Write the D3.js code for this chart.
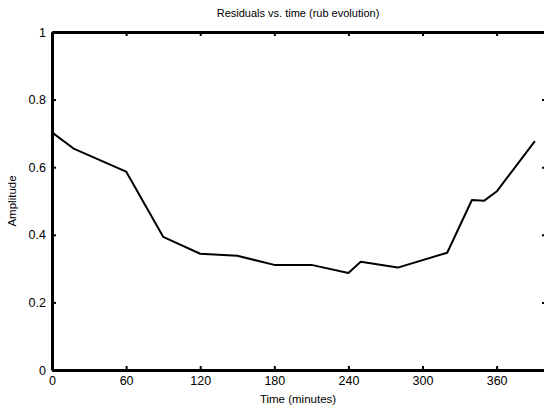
<!DOCTYPE html>
<html>
<head>
<meta charset="utf-8">
<script src="https://cdn.jsdelivr.net/npm/d3@7"></script>
<style>
  body { margin: 0; background: #fff; }
  svg { display: block; font-family: "Liberation Sans", Arial, sans-serif; }
</style>
</head>
<body>
<div id="chart"></div>
<script>
// residual amplitude over time
const timeMinutes = [0, 18, 60, 90, 120, 150, 180, 210, 240, 250, 280, 320, 340, 350, 360, 391];
const amplitude = [0.703, 0.654, 0.587, 0.394, 0.344, 0.338, 0.311, 0.311, 0.287, 0.320, 0.303, 0.347, 0.503, 0.501, 0.528, 0.677];
const xTicks = [0, 60, 120, 180, 240, 300, 360];
const yTicks = [0, 0.2, 0.4, 0.6, 0.8, 1];

const width = 544, height = 412;
const margin = { top: 32, right: -2, bottom: 42, left: 52 };

const svg = d3.select("#chart")
  .append("svg")
  .attr("width", width)
  .attr("height", height);

const x = d3.scaleLinear()
  .domain([0, 400])
  .range([margin.left, width - margin.right]);

const y = d3.scaleLinear()
  .domain([0, 1])
  .range([height - margin.bottom, margin.top]);

// data line
const line = d3.line()
  .x((d, i) => x(timeMinutes[i]))
  .y(d => y(d));

svg.append("path")
  .datum(amplitude)
  .attr("fill", "none")
  .attr("stroke", "#000")
  .attr("stroke-width", 2)
  .attr("stroke-linejoin", "round")
  .attr("d", line);

// box axes with inward ticks
const tickLen = 4;
const fmt = d => d3.format("~g")(d);

svg.append("g")
  .attr("transform", `translate(0,${y(0)})`)
  .call(d3.axisBottom(x).tickValues(xTicks).tickSizeInner(-tickLen).tickSizeOuter(0).tickPadding(6).tickFormat(fmt));

svg.append("g")
  .attr("transform", `translate(0,${y(1)})`)
  .call(d3.axisTop(x).tickValues(xTicks).tickSizeInner(-tickLen).tickSizeOuter(0).tickFormat(""));

svg.append("g")
  .attr("transform", `translate(${x(0)},0)`)
  .call(d3.axisLeft(y).tickValues(yTicks).tickSizeInner(-tickLen).tickSizeOuter(0).tickPadding(6).tickFormat(fmt));

svg.append("g")
  .attr("transform", `translate(${x(400)},0)`)
  .call(d3.axisRight(y).tickValues(yTicks).tickSizeInner(-tickLen).tickSizeOuter(0).tickFormat(""));

svg.selectAll(".domain")
  .attr("stroke", "#000")
  .attr("stroke-width", 3);

svg.selectAll(".tick line")
  .attr("stroke", "#000")
  .attr("stroke-width", 2);

svg.selectAll(".tick text")
  .attr("fill", "#000")
  .style("font-size", "12.5px")
  .style("font-family", "'Liberation Sans', Arial, sans-serif");

// labels
svg.append("text")
  .attr("x", 298)
  .attr("y", 17)
  .attr("text-anchor", "middle")
  .style("font-size", "11px")
  .text("Residuals vs. time (rub evolution)");

svg.append("text")
  .attr("x", 298)
  .attr("y", 403)
  .attr("text-anchor", "middle")
  .style("font-size", "11.5px")
  .text("Time (minutes)");

svg.append("text")
  .attr("transform", `translate(16,${y(0.5)}) rotate(-90)`)
  .attr("text-anchor", "middle")
  .style("font-size", "11.5px")
  .text("Amplitude");
</script>
</body>
</html>
